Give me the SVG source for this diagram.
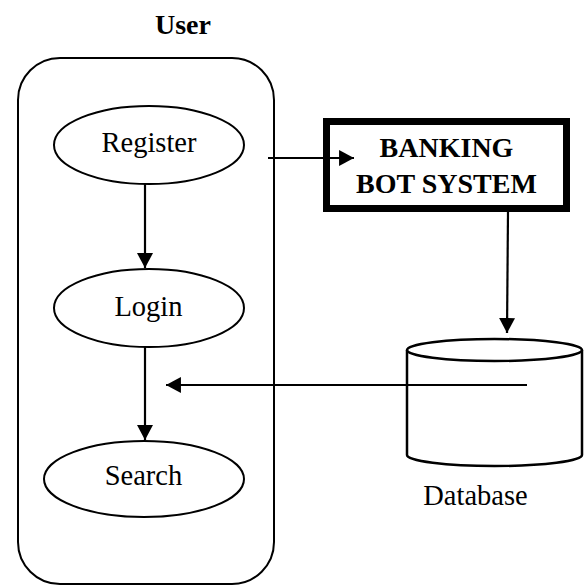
<svg xmlns="http://www.w3.org/2000/svg" width="588" height="586" viewBox="0 0 588 586">
<style>
.t{font-family:"Liberation Serif","Times New Roman",serif;font-size:28.5px;fill:#000;text-anchor:middle}
.b{font-weight:bold;font-size:28px}
.n{fill:#fff;stroke:#000;stroke-width:2}
.c{stroke:#000;stroke-width:2.2;fill:none}
</style>
<defs>
<marker id="ah" markerUnits="userSpaceOnUse" markerWidth="16" markerHeight="16" viewBox="0 0 14 15" refX="14" refY="7.5" orient="auto">
<path d="M0,0 L14,7.5 L0,15 Z" fill="#000"/>
</marker>
</defs>
<rect width="588" height="586" fill="#fff"/>
<g id="user">
<text class="t b" x="183" y="34">User</text>
<rect class="n" x="18" y="58" width="256" height="526" rx="42" ry="42"/>
</g>
<g id="register">
<ellipse class="n" cx="149" cy="145" rx="95" ry="39"/>
<text class="t" x="149" y="152">Register</text>
</g>
<g id="login">
<ellipse class="n" cx="149" cy="308" rx="95" ry="39"/>
<text class="t" x="148.5" y="316">Login</text>
</g>
<g id="search">
<ellipse class="n" cx="144" cy="479" rx="100" ry="38"/>
<text class="t" x="143.5" y="485">Search</text>
</g>
<g id="banking">
<rect x="326.5" y="121.5" width="240" height="87" fill="#fff" stroke="#000" stroke-width="7"/>
<text class="t b" x="446.5" y="157">BANKING</text>
<text class="t b" x="446.5" y="193">BOT SYSTEM</text>
</g>
<g id="database">
<path d="M407,350 L407,455 A87.5,11 0 0 0 582,455 L582,350" fill="#fff" stroke="#000" stroke-width="2.5"/>
<ellipse cx="494.5" cy="350" rx="87.5" ry="11" fill="#fff" stroke="#000" stroke-width="2.5"/>
<text class="t" x="475.5" y="505">Database</text>
</g>
<g id="connectors">
<line class="c" x1="145" y1="184" x2="145" y2="268" marker-end="url(#ah)"/>
<line class="c" x1="145" y1="347" x2="145" y2="440" marker-end="url(#ah)"/>
<line class="c" x1="268" y1="158" x2="354" y2="158" marker-end="url(#ah)"/>
<line class="c" x1="508" y1="212" x2="507" y2="333" marker-end="url(#ah)"/>
<line class="c" x1="527" y1="385" x2="166" y2="385" marker-end="url(#ah)"/>
</g>
</svg>
